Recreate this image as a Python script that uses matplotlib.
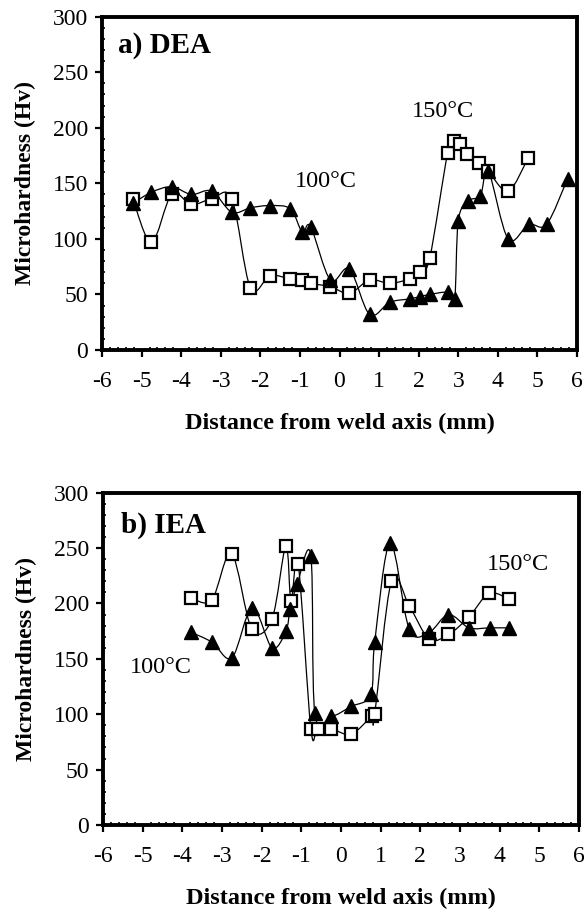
import numpy as np
import matplotlib
matplotlib.use("Agg")
import matplotlib.pyplot as plt
from matplotlib.path import Path
from matplotlib.patches import PathPatch
from matplotlib.ticker import MultipleLocator

plt.rcParams["font.family"] = ["Liberation Serif", "DejaVu Serif"]
plt.rcParams["axes.unicode_minus"] = False

# a) DEA
dea_x_150 = [-5.22, -4.75, -4.24, -3.74, -3.23, -2.72, -2.25, -1.75, -1.24, -0.94, -0.73, -0.23, 0.25,
             0.76, 1.27, 1.77, 2.03, 2.28, 2.73, 2.89, 3.04, 3.23, 3.53, 3.76, 4.26, 4.77]
dea_hv_150 = [136, 97, 140, 131, 136, 136, 56, 67, 64, 63, 60, 57, 51,
              63, 60, 64, 70, 83, 177, 188, 185, 176, 168, 161, 143, 173]
dea_x_100 = [-5.22, -4.75, -4.24, -3.74, -3.23, -2.72, -2.25, -1.75, -1.24, -0.94, -0.73, -0.23, 0.25,
             0.76, 1.27, 1.77, 2.03, 2.28, 2.74, 2.91, 3.0, 3.25, 3.56, 3.76, 4.26, 4.78, 5.23, 5.76]
dea_hv_100 = [132, 142, 147, 140, 143, 124, 128, 130, 127, 106, 111, 63, 73,
              32, 43, 46, 48, 50, 52, 46, 116, 134, 139, 161, 100, 113, 113, 154]

# b) IEA
iea_x_150 = [-3.78, -3.26, -2.76, -2.25, -1.74, -1.39, -1.26, -1.08, -0.76, -0.59, -0.25, 0.25,
             0.77, 0.85, 1.27, 1.72, 2.22, 2.71, 3.23, 3.73, 4.24]
iea_hv_150 = [205, 203, 245, 177, 186, 252, 202, 236, 87, 87, 87, 82,
              98, 100, 220, 198, 168, 172, 188, 209, 204]
iea_x_100 = [-3.78, -3.25, -2.75, -2.24, -1.74, -1.39, -1.28, -1.1, -0.76, -0.66, -0.24, 0.25,
             0.75, 0.85, 1.24, 1.72, 2.22, 2.71, 3.23, 3.75, 4.24]
iea_hv_100 = [174, 165, 151, 196, 160, 175, 195, 218, 243, 101, 98, 107,
              118, 165, 255, 177, 174, 190, 178, 178, 178]

x_ticks = list(range(-6, 7))
y_ticks = list(range(0, 301, 50))


def smooth_line(ax, x, y):
    # Excel-like smoothed connector (Catmull-Rom as cubic Bezier)
    pts = np.column_stack([x, y]).astype(float)
    verts = [pts[0]]
    codes = [Path.MOVETO]
    n = len(pts)
    for i in range(n - 1):
        p0 = pts[max(i - 1, 0)]
        p1 = pts[i]
        p2 = pts[i + 1]
        p3 = pts[min(i + 2, n - 1)]
        verts += [p1 + (p2 - p0) / 6, p2 - (p3 - p1) / 6, p2]
        codes += [Path.CURVE4] * 3
    ax.add_patch(PathPatch(Path(verts, codes), fill=False, lw=0.9, edgecolor="black", zorder=2))


def panel(ax, x150, y150, x100, y100, title, title_pos, lab100, lab150):
    smooth_line(ax, x150, y150)
    smooth_line(ax, x100, y100)
    ax.plot(x150, y150, ls="none", marker="s", ms=8.5, mfc="white", mec="black", mew=1.6, zorder=3)
    ax.plot(x100, y100, ls="none", marker="^", ms=9.5, mfc="black", mec="black", zorder=4)

    ax.set_xlim(-6, 6)
    ax.set_ylim(0, 300)
    ax.set_xticks(x_ticks)
    ax.set_yticks(y_ticks)
    ax.xaxis.set_minor_locator(MultipleLocator(0.2))
    ax.yaxis.set_minor_locator(MultipleLocator(10))
    ax.tick_params(which="major", direction="out", length=5, width=1.6, labelsize=17)
    ax.tick_params(axis="x", which="major", pad=10)
    ax.tick_params(axis="y", which="major", pad=5)
    ax.tick_params(which="minor", direction="in", length=2.5, width=1.2)
    for s in ax.spines.values():
        s.set_linewidth(2.8)

    ax.set_xlabel("Distance from weld axis (mm)", fontsize=17.5, fontweight="bold", labelpad=15)
    ax.set_ylabel("Microhardness (Hv)", fontsize=17, fontweight="bold", labelpad=12)
    ax.text(title_pos[0], title_pos[1], title, transform=ax.transAxes,
            fontsize=21, fontweight="bold", va="center")
    ax.text(lab100[0], lab100[1], "100°C", fontsize=17.5, va="center")
    ax.text(lab150[0], lab150[1], "150°C", fontsize=17.5, va="center")


fig = plt.figure(figsize=(5.84, 9.14), dpi=100)
ax1 = fig.add_axes([102 / 584, 1 - 350 / 914, 475 / 584, 333.3 / 914])
ax2 = fig.add_axes([103 / 584, 1 - 825 / 914, 476 / 584, 332.3 / 914])

panel(ax1, dea_x_150, dea_hv_150, dea_x_100, dea_hv_100, "a) DEA", (0.033, 0.915),
      (-1.14, 152), (1.82, 215))
panel(ax2, iea_x_150, iea_hv_150, iea_x_100, iea_hv_100, "b) IEA", (0.037, 0.903),
      (-5.33, 142), (3.68, 235))

fig.savefig("out.png", dpi=100)
